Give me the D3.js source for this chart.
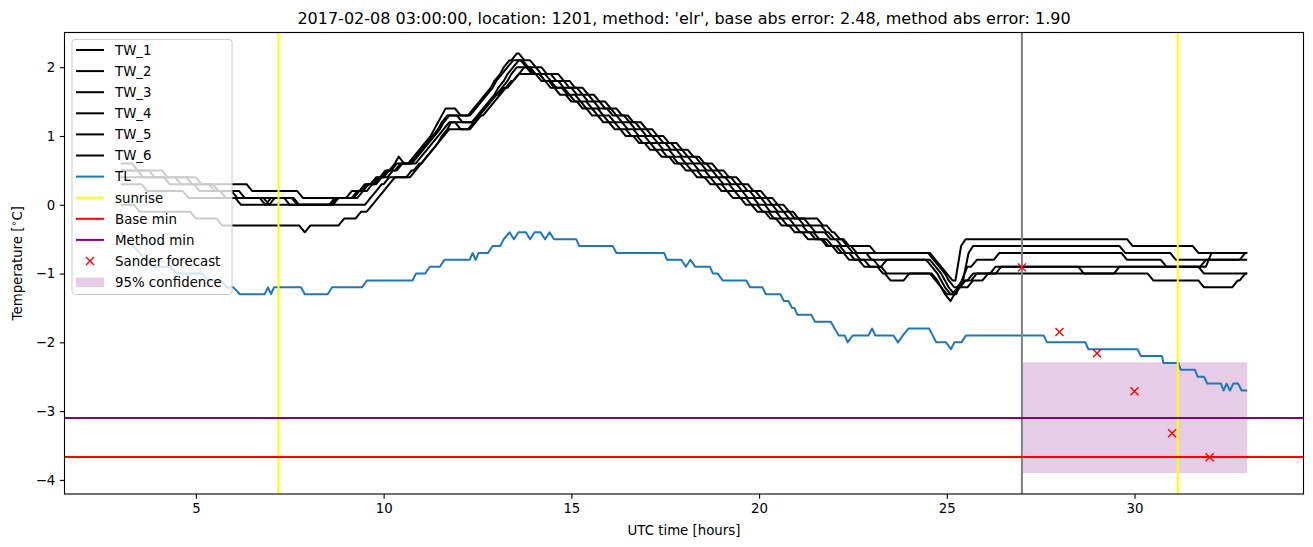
<!DOCTYPE html>
<html>
<head>
<meta charset="utf-8">
<script src="https://cdn.jsdelivr.net/npm/d3@7"></script>
<style>
  body { margin: 0; background: #fff; }
  text { font-family: "DejaVu Sans", sans-serif; }
</style>
</head>
<body>
<script>
// values (hours UTC, degrees C)

// TW sensors: start value at t=3, then [time new value is reached, value]
var twStart = [0.6, 0.5, 0.5, 0.4, 0.3, 0.0];
var tw1 = [[3.45,0.5],[4.25,0.4],[5.15,0.3],[6.5,0.2],[7.85,0.1],[9.15,0.2],[9.5,0.3],[9.8,0.4],[10.05,0.5],[10.3,0.6],[10.4,0.7],[10.55,0.6],[10.8,0.7],[10.95,0.8],[11.1,0.9],[11.25,1.0],[11.35,1.1],[11.45,1.2],[11.55,1.3],[11.65,1.4],[12.05,1.3],[12.4,1.4],[12.55,1.5],[12.7,1.6],[12.85,1.7],[12.95,1.8],[13.1,1.9],[13.2,2.0],[13.35,2.1],[13.55,2.2],[13.75,2.1],[14.05,2.0],[14.35,1.9],[14.8,1.8],[15.1,1.7],[15.45,1.6],[15.75,1.5],[16.05,1.4],[16.35,1.3],[16.65,1.2],[17.0,1.1],[17.3,1.0],[17.6,0.9],[17.95,0.8],[18.25,0.7],[18.55,0.6],[18.9,0.5],[19.2,0.4],[19.55,0.3],[19.85,0.2],[20.2,0.1],[20.5,0.0],[20.8,-0.1],[21.05,-0.2],[21.7,-0.3],[21.95,-0.4],[22.15,-0.5],[22.35,-0.6],[23.1,-0.7],[24.7,-0.8],[24.85,-0.9],[25.0,-1.0],[25.15,-1.1],[25.38,-0.6],[25.5,-0.5],[29.95,-0.6],[31.7,-0.7]];
var tw2 = [[3.6,0.4],[4.6,0.3],[5.5,0.2],[6.1,0.1],[6.85,0.0],[7.0,0.1],[7.7,0.0],[8.75,0.1],[9.3,0.2],[9.55,0.3],[9.85,0.4],[10.1,0.5],[10.35,0.6],[10.85,0.7],[11.0,0.8],[11.15,0.9],[11.3,1.0],[11.45,1.1],[11.55,1.2],[11.7,1.3],[12.45,1.4],[12.6,1.5],[12.75,1.6],[12.9,1.7],[13.0,1.8],[13.15,1.9],[13.3,2.0],[13.45,2.1],[13.85,2.0],[14.2,1.9],[14.6,1.8],[14.95,1.7],[15.3,1.6],[15.6,1.5],[15.9,1.4],[16.2,1.3],[16.55,1.2],[16.85,1.1],[17.15,1.0],[17.45,0.9],[17.8,0.8],[18.1,0.7],[18.45,0.6],[18.75,0.5],[19.05,0.4],[19.4,0.3],[19.7,0.2],[20.05,0.1],[20.35,0.0],[20.65,-0.1],[20.95,-0.2],[21.35,-0.3],[21.8,-0.4],[22.0,-0.5],[22.4,-0.6],[22.6,-0.7],[24.65,-0.8],[24.8,-0.9],[24.95,-1.0],[25.05,-1.1],[25.2,-1.2],[25.42,-1.1],[25.58,-0.7],[25.7,-0.6],[29.75,-0.7],[31.1,-0.8],[32.95,-0.7]];
var tw3 = [[3.9,0.4],[4.9,0.3],[5.6,0.2],[6.3,0.1],[7.75,0.0],[8.8,0.1],[9.35,0.2],[9.6,0.3],[9.9,0.4],[10.15,0.5],[10.45,0.6],[10.9,0.7],[11.05,0.8],[11.2,0.9],[11.35,1.0],[11.5,1.1],[11.6,1.2],[11.75,1.3],[12.1,1.2],[12.5,1.3],[12.65,1.4],[12.8,1.5],[12.95,1.6],[13.05,1.7],[13.2,1.8],[13.3,1.9],[13.45,2.0],[13.6,2.1],[13.8,2.0],[14.05,1.9],[14.45,1.8],[14.8,1.7],[15.15,1.6],[15.45,1.5],[15.75,1.4],[16.1,1.3],[16.35,1.2],[16.7,1.1],[17.0,1.0],[17.3,0.9],[17.65,0.8],[17.95,0.7],[18.25,0.6],[18.6,0.5],[18.9,0.4],[19.25,0.3],[19.55,0.2],[19.9,0.1],[20.2,0.0],[20.5,-0.1],[20.8,-0.2],[21.2,-0.3],[21.5,-0.4],[21.9,-0.5],[22.2,-0.6],[22.5,-0.7],[23.0,-0.8],[24.7,-0.9],[24.85,-1.0],[24.95,-1.1],[25.05,-1.2],[25.2,-1.3],[25.4,-1.1],[25.55,-0.9],[25.8,-0.8],[26.4,-0.7],[29.8,-0.8],[30.85,-0.9],[32.05,-0.7]];
var tw4 = [[4.3,0.3],[5.1,0.2],[5.8,0.1],[6.95,0.0],[7.1,0.1],[7.5,0.0],[8.7,0.1],[9.45,0.2],[9.7,0.3],[9.95,0.4],[10.25,0.5],[10.5,0.6],[11.0,0.7],[11.15,0.8],[11.3,0.9],[11.45,1.0],[11.6,1.1],[11.75,1.2],[12.55,1.3],[12.7,1.4],[12.85,1.5],[13.0,1.6],[13.15,1.7],[13.3,1.8],[13.4,1.9],[13.55,2.0],[13.95,1.9],[14.3,1.8],[14.6,1.7],[14.95,1.6],[15.25,1.5],[15.55,1.4],[15.85,1.3],[16.15,1.2],[16.5,1.1],[16.8,1.0],[17.1,0.9],[17.45,0.8],[17.75,0.7],[18.05,0.6],[18.4,0.5],[18.7,0.4],[19.05,0.3],[19.35,0.2],[19.7,0.1],[20.0,0.0],[20.3,-0.1],[20.6,-0.2],[20.95,-0.3],[21.3,-0.4],[21.6,-0.5],[21.95,-0.6],[22.3,-0.7],[22.7,-0.8],[23.2,-0.9],[23.4,-0.8],[24.6,-0.9],[24.75,-1.0],[24.85,-1.1],[24.95,-1.2],[25.1,-1.3],[25.3,-1.2],[25.45,-1.1],[25.8,-1.0],[26.45,-0.9],[28.65,-1.0],[29.6,-0.9],[31.85,-1.0]];
var tw5 = [[3.7,0.2],[4.8,0.1],[6.2,0.0],[9.65,0.1],[9.8,0.2],[9.95,0.3],[10.15,0.4],[10.75,0.5],[10.95,0.6],[11.15,0.7],[11.3,0.8],[11.45,0.9],[11.55,1.0],[11.7,1.1],[11.8,1.2],[12.05,1.1],[12.45,1.2],[12.6,1.3],[12.8,1.4],[12.95,1.5],[13.1,1.6],[13.25,1.7],[13.45,1.8],[13.6,1.9],[13.75,2.0],[14.0,1.9],[14.3,1.8],[14.55,1.7],[14.9,1.6],[15.1,1.5],[15.4,1.4],[15.7,1.3],[16.0,1.2],[16.3,1.1],[16.6,1.0],[16.9,0.9],[17.25,0.8],[17.55,0.7],[17.85,0.6],[18.2,0.5],[18.5,0.4],[18.85,0.3],[19.15,0.2],[19.5,0.1],[19.8,0.0],[20.1,-0.1],[20.4,-0.2],[20.75,-0.3],[21.1,-0.4],[21.5,-0.5],[21.85,-0.6],[22.2,-0.7],[22.55,-0.8],[22.95,-0.9],[23.4,-1.0],[24.75,-1.1],[24.85,-1.2],[25.0,-1.3],[25.3,-1.2],[25.7,-1.1],[26.1,-1.0],[30.5,-1.1],[31.85,-1.2],[32.75,-1.1],[32.95,-1.0]];
var tw6 = [[3.5,-0.1],[5.0,-0.2],[5.7,-0.3],[7.9,-0.4],[8.05,-0.3],[8.95,-0.2],[9.4,-0.1],[9.7,0.0],[9.85,0.1],[10.0,0.2],[10.15,0.3],[10.3,0.4],[10.85,0.5],[11.0,0.6],[11.15,0.7],[11.3,0.8],[11.45,0.9],[11.6,1.0],[11.75,1.1],[12.4,1.2],[12.55,1.3],[12.7,1.4],[12.85,1.5],[13.0,1.6],[13.2,1.7],[13.4,1.8],[13.6,1.9],[14.2,1.8],[14.45,1.7],[14.7,1.6],[15.0,1.5],[15.3,1.4],[15.55,1.3],[15.85,1.2],[16.15,1.1],[16.45,1.0],[16.8,0.9],[17.1,0.8],[17.4,0.7],[17.75,0.6],[18.05,0.5],[18.35,0.4],[18.7,0.3],[19.0,0.2],[19.3,0.1],[19.65,0.0],[19.95,-0.1],[20.3,-0.2],[20.6,-0.3],[20.95,-0.4],[21.3,-0.5],[21.8,-0.6],[22.1,-0.7],[22.4,-0.8],[22.8,-0.9],[23.3,-1.0],[23.5,-1.1],[24.0,-1.0],[24.7,-1.1],[24.85,-1.2],[24.95,-1.3],[25.1,-1.4],[25.2,-1.3],[25.35,-1.2],[25.5,-1.1],[25.7,-1.0],[26.3,-0.9],[31.9,-0.8]];

// TL air temperature, polyline vertices [hour, value]
var tl = [[3.0,-0.4],[3.17,-0.5],[3.33,-0.6],[3.5,-0.7],[3.67,-0.8],[3.83,-0.9],[4.33,-0.9],[4.5,-1.0],[5.17,-1.0],[5.33,-1.1],[5.67,-1.1],[5.83,-1.2],[6.0,-1.2],[6.17,-1.3],[6.83,-1.3],[6.92,-1.2],[7.0,-1.3],[7.08,-1.2],[7.8,-1.2],[7.9,-1.3],
  [8.51,-1.3],[8.63,-1.2],[9.43,-1.2],[9.55,-1.1],[10.77,-1.1],[10.86,-1.0],[11.11,-1.0],[11.23,-0.9],[11.5,-0.9],[11.62,-0.8],[12.29,-0.8],[12.37,-0.7],[12.45,-0.8],[12.53,-0.7],[12.78,-0.7],[12.9,-0.6],[13.1,-0.6],[13.2,-0.5],[13.35,-0.4],[13.47,-0.5],[13.59,-0.4],[13.79,-0.4],[13.9,-0.5],[14.02,-0.4],[14.18,-0.4],[14.3,-0.5],[14.42,-0.4],[14.54,-0.5],[15.13,-0.5],[15.21,-0.6],[16.1,-0.6],[16.2,-0.7],[17.47,-0.7],[17.55,-0.8],[17.93,-0.8],[18.05,-0.9],[18.17,-0.8],[18.3,-0.9],[18.69,-0.9],[18.77,-1.0],[18.9,-1.0],[19.03,-1.1],[19.66,-1.1],[19.76,-1.2],[20.09,-1.2],[20.18,-1.3],[20.57,-1.3],[20.66,-1.4],[20.78,-1.4],[20.88,-1.5],[20.94,-1.5],[21.02,-1.6],[21.39,-1.6],[21.49,-1.7],[21.91,-1.7],[22.01,-1.8],[22.12,-1.9],[22.28,-1.9],[22.36,-2.0],[22.49,-1.9],[22.91,-1.9],[23.01,-1.8],[23.1,-1.9],[23.58,-1.9],[23.7,-2.0],[23.83,-1.9],[23.98,-1.8],[24.53,-1.8],[24.72,-2.0],[24.98,-2.0],[25.11,-2.1],[25.2,-2.0],[25.39,-2.0],[25.51,-1.9],
  [27.58,-1.9],[27.67,-2.0],[28.69,-2.0],[28.77,-2.1],[30.08,-2.1],[30.17,-2.2],[30.73,-2.2],[30.77,-2.3],[31.17,-2.3],[31.23,-2.4],[31.61,-2.4],[31.68,-2.5],[31.85,-2.5],[31.94,-2.6],[32.3,-2.6],[32.37,-2.7],[32.45,-2.6],[32.54,-2.7],[32.63,-2.6],[32.76,-2.6],[32.85,-2.7],[33.0,-2.7]];

var sunrise = [7.2, 31.15];
var forecastStart = 27;
var baseMin = -3.667;
var methodMin = -3.1;
var sanderHours = [27, 28, 29, 30, 31, 32];
var sanderTemps = [-0.91, -1.85, -2.16, -2.71, -3.32, -3.67];
var confHours = [27, 33];
var confLow = -3.9, confHigh = -2.29;

var xTicks = [5, 10, 15, 20, 25, 30];
var yTicks = [-4, -3, -2, -1, 0, 1, 2];
var titleText = "2017-02-08 03:00:00, location: 1201, method: 'elr', base abs error: 2.48, method abs error: 1.90";

var width = 1313, height = 547;
var axL = 64.5, axR = 1303.5, axT = 32.5, axB = 494;

var svg = d3.select("body").append("svg")
    .attr("width", width)
    .attr("height", height);

var x = d3.scaleLinear().domain([1.5, 34.5]).range([axL, axR]);
var y = d3.scaleLinear().domain([-4.205, 2.505]).range([axB, axT]);

var line = d3.line()
    .x(function(d) { return x(d[0]); })
    .y(function(d) { return y(d[1]); });

// turn [time, value] changes into a polyline with 10-minute ramps
function twPoints(start, changes) {
  var pts = [[3, start]], prev = start, last = 3;
  changes.forEach(function(c) {
    var t0 = c[0] - 0.15;
    if (t0 > last) pts.push([t0, prev]);
    pts.push([c[0], c[1]]);
    prev = c[1];
    last = c[0];
  });
  pts.push([33, prev]);
  return pts;
}

var plot = svg.append("g");

// 95% confidence band (under the lines)
plot.append("rect")
    .attr("x", x(confHours[0]))
    .attr("width", x(confHours[1]) - x(confHours[0]))
    .attr("y", y(confHigh))
    .attr("height", y(confLow) - y(confHigh))
    .attr("fill", "purple")
    .attr("fill-opacity", 0.2);

[tw1, tw2, tw3, tw4, tw5, tw6].forEach(function(s, i) {
  plot.append("path")
      .attr("d", line(twPoints(twStart[i], s)))
      .attr("fill", "none")
      .attr("stroke", "black")
      .attr("stroke-width", 2)
      .attr("stroke-linejoin", "round");
});

plot.append("path")
    .attr("d", line(tl))
    .attr("fill", "none")
    .attr("stroke", "#1f77b4")
    .attr("stroke-width", 2)
    .attr("stroke-linejoin", "round");

sunrise.forEach(function(h) {
  plot.append("line")
      .attr("x1", x(h)).attr("x2", x(h))
      .attr("y1", axT).attr("y2", axB)
      .attr("stroke", "yellow").attr("stroke-width", 2);
});

plot.append("line")
    .attr("x1", x(forecastStart)).attr("x2", x(forecastStart))
    .attr("y1", axT).attr("y2", axB)
    .attr("stroke", "grey").attr("stroke-width", 2);

plot.append("line")
    .attr("x1", axL).attr("x2", axR)
    .attr("y1", y(baseMin)).attr("y2", y(baseMin))
    .attr("stroke", "red").attr("stroke-width", 2);

plot.append("line")
    .attr("x1", axL).attr("x2", axR)
    .attr("y1", y(methodMin)).attr("y2", y(methodMin))
    .attr("stroke", "purple").attr("stroke-width", 2);

// Sander forecast markers
sanderHours.forEach(function(h, i) {
  var cx = x(h), cy = y(sanderTemps[i]);
  plot.append("path")
      .attr("d", "M" + (cx - 4) + "," + (cy - 4) + "L" + (cx + 4) + "," + (cy + 4) +
                 "M" + (cx - 4) + "," + (cy + 4) + "L" + (cx + 4) + "," + (cy - 4))
      .attr("stroke", "red")
      .attr("stroke-width", 1.4);
});

// axes
var xAxis = svg.append("g")
    .attr("transform", "translate(0," + axB + ")")
    .call(d3.axisBottom(x).tickValues(xTicks).tickSize(4.7).tickPadding(4.5)
          .tickFormat(d3.format("d")));
var yAxis = svg.append("g")
    .attr("transform", "translate(" + axL + ",0)")
    .call(d3.axisLeft(y).tickValues(yTicks).tickSize(4.7).tickPadding(4.5)
          .tickFormat(function(d) { return d < 0 ? "\u2212" + Math.abs(d) : d; }));

[xAxis, yAxis].forEach(function(a) {
  a.select(".domain").remove();
  a.selectAll(".tick line").attr("stroke", "black").attr("stroke-width", 1.1);
  a.selectAll(".tick text")
      .attr("fill", "black")
      .style("font-family", "DejaVu Sans")
      .style("font-size", "13.33px");
});

svg.append("rect")
    .attr("x", axL).attr("y", axT)
    .attr("width", axR - axL).attr("height", axB - axT)
    .attr("fill", "none")
    .attr("stroke", "black")
    .attr("stroke-width", 1.1);

svg.append("text")
    .attr("x", (axL + axR) / 2).attr("y", 24)
    .attr("text-anchor", "middle")
    .style("font-size", "16px")
    .text(titleText);

svg.append("text")
    .attr("x", (axL + axR) / 2).attr("y", 535)
    .attr("text-anchor", "middle")
    .style("font-size", "13.33px")
    .text("UTC time [hours]");

var ylab = svg.append("text")
    .attr("transform", "translate(22," + ((axT + axB) / 2) + ") rotate(-90)")
    .attr("text-anchor", "middle")
    .style("font-size", "13.33px");
ylab.append("tspan").text("Temperature [");
ylab.append("tspan").attr("dy", -5).style("font-size", "9.5px").text("\u2218");
ylab.append("tspan").attr("dy", 5).text("C]");

// legend
var legendItems = [
  {name: "TW_1", type: "line", color: "black"},
  {name: "TW_2", type: "line", color: "black"},
  {name: "TW_3", type: "line", color: "black"},
  {name: "TW_4", type: "line", color: "black"},
  {name: "TW_5", type: "line", color: "black"},
  {name: "TW_6", type: "line", color: "black"},
  {name: "TL", type: "line", color: "#1f77b4"},
  {name: "sunrise", type: "line", color: "yellow"},
  {name: "Base min", type: "line", color: "red"},
  {name: "Method min", type: "line", color: "purple"},
  {name: "Sander forecast", type: "marker", color: "red"},
  {name: "95% confidence", type: "patch", color: "purple"}
];

var lg = svg.append("g");
lg.append("rect")
    .attr("x", 72).attr("y", 39.5)
    .attr("width", 160).attr("height", 255)
    .attr("rx", 3)
    .attr("fill", "white").attr("fill-opacity", 0.8)
    .attr("stroke", "#cccccc").attr("stroke-width", 1);

legendItems.forEach(function(d, i) {
  var cy = 50 + i * 21.1;
  if (d.type === "line") {
    lg.append("line")
        .attr("x1", 76).attr("x2", 104)
        .attr("y1", cy).attr("y2", cy)
        .attr("stroke", d.color).attr("stroke-width", 2);
  } else if (d.type === "marker") {
    lg.append("path")
        .attr("d", "M86,"+(cy-4)+"L94,"+(cy+4)+"M86,"+(cy+4)+"L94,"+(cy-4))
        .attr("stroke", d.color).attr("stroke-width", 1.4);
  } else {
    lg.append("rect")
        .attr("x", 76).attr("y", cy - 4.5)
        .attr("width", 28).attr("height", 9.5)
        .attr("fill", d.color).attr("fill-opacity", 0.2);
  }
  lg.append("text")
      .attr("x", 115).attr("y", cy + 4.8)
      .style("font-size", "13.33px")
      .text(d.name);
});
</script>
</body>
</html>
